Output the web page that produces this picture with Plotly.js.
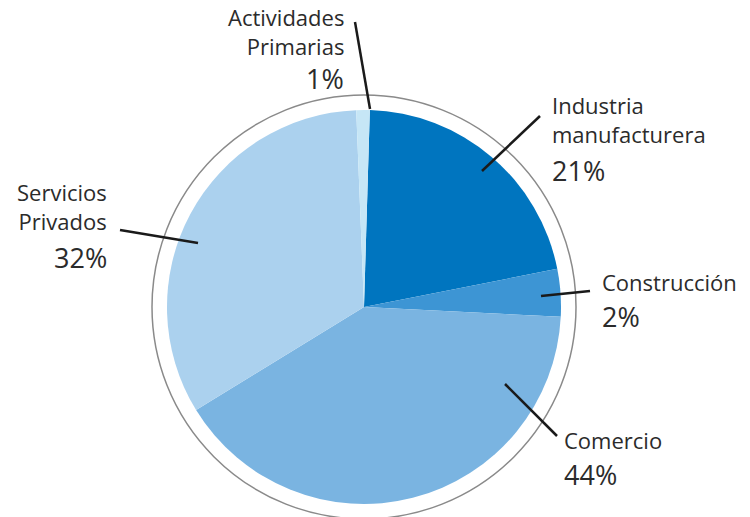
<!DOCTYPE html>
<html>
<head>
<meta charset="utf-8">
<script src="https://cdn.plot.ly/plotly-3.0.1.min.js"></script>
<style>html,body{margin:0;padding:0;background:#fff;}#chart{width:750px;height:517px;}</style>
</head>
<body>
<div id="chart"></div>
<script>
// Data (slice order clockwise from 12 o'clock)
var categories = ["Industria manufacturera", "Construcción", "Comercio", "Servicios Privados", "Actividades Primarias"];
var labelNames = ["Industria<br>manufacturera", "Construcción", "Comercio", "Servicios<br>Privados", "Actividades<br>Primarias"];
var shareValues = [21.4, 3.9, 40.4, 33.1, 1.1];   // slice sizes as drawn
var percentLabels = ["21%", "2%", "44%", "32%", "1%"];
var sliceColors = ["#0075bf", "#3d95d4", "#7ab4e1", "#abd1ee", "#c6e6f6"];

var W = 750, H = 517;
function px(x) { return x / W; }
function py(y) { return 1 - y / H; }

// Pie geometry (pixels)
var cx = 364, cy = 307, r = 197, ringR = 212;

// Label layout (pixels): leader line [x0,y0,x1,y1], x anchor, alignment, name centre, pct centre
var labelLayout = [
  {line: [482, 171, 540, 116], x: 550, align: "left",  name: 120, pct: 171},
  {line: [541, 296, 590, 291], x: 600, align: "left",  name: 282, pct: 316},
  {line: [505, 384, 557, 436], x: 562, align: "left",  name: 440, pct: 474},
  {line: [198, 243, 120, 230], x: 109, align: "right", name: 207, pct: 257},
  {line: [370, 109, 355, 22],  x: 346, align: "right", name: 31,  pct: 79}
];

var textColor = "#2b2b2b";
var fontFam = "'Open Sans', Lato, sans-serif";

var shapes = [{
  type: "circle", xref: "paper", yref: "paper",
  x0: px(cx - ringR), x1: px(cx + ringR), y0: py(cy + ringR), y1: py(cy - ringR),
  line: {color: "#8a8a8a", width: 1.5}, fillcolor: "rgba(0,0,0,0)", layer: "below"
}];
var annotations = [];
labelLayout.forEach(function (L, i) {
  shapes.push({
    type: "line", xref: "paper", yref: "paper",
    x0: px(L.line[0]), y0: py(L.line[1]), x1: px(L.line[2]), y1: py(L.line[3]),
    line: {color: "#1a1a1a", width: 2.5}
  });
  annotations.push({
    xref: "paper", yref: "paper", x: px(L.x), y: py(L.name),
    xanchor: L.align, yanchor: "middle", align: L.align,
    text: labelNames[i], showarrow: false,
    font: {family: fontFam, size: 22, color: textColor}
  });
  annotations.push({
    xref: "paper", yref: "paper", x: px(L.x), y: py(L.pct),
    xanchor: L.align, yanchor: "middle", align: L.align,
    text: percentLabels[i], showarrow: false,
    font: {family: fontFam, size: 27, color: textColor}
  });
});

var trace = {
  type: "pie",
  labels: categories,
  values: shareValues,
  sort: false,
  direction: "clockwise",
  rotation: 1.7,
  marker: {colors: sliceColors, line: {width: 0}},
  textinfo: "none",
  hoverinfo: "none",
  showlegend: false,
  domain: {x: [px(cx - r), px(cx + r)], y: [py(cy + r), py(cy - r)]}
};

var layout = {
  width: W, height: H,
  margin: {l: 0, r: 0, t: 0, b: 0},
  paper_bgcolor: "#ffffff",
  showlegend: false,
  shapes: shapes,
  annotations: annotations
};

Plotly.newPlot("chart", [trace], layout, {displayModeBar: false, staticPlot: true});
</script>
</body>
</html>
